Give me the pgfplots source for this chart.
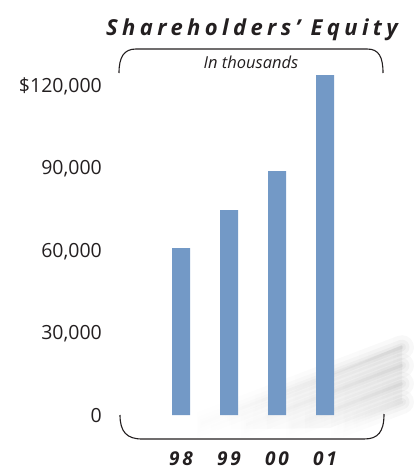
\documentclass[border=0pt]{standalone}
\usepackage{fontspec}
\setmainfont{Open Sans}
\usepackage{pgfplots}
\pgfplotsset{compat=1.18}
\usetikzlibrary{fadings}
\definecolor{barblue}{HTML}{7399C6}
\definecolor{ink}{HTML}{231F20}
\newfontfamily\titlefont[LetterSpace=20]{Open Sans}
\newfontfamily\yearfont[LetterSpace=14]{Open Sans}

\tikzfading[name=streakfade, left color=transparent!100, middle color=transparent!0, right color=transparent!20]

\begin{document}
\begin{tikzpicture}
% page frame
\path (0,0) rectangle (402bp,-469bp);

% soft diagonal shadows behind the bars
\fill[gray!70, opacity=0.14, path fading=streakfade]
  (200bp,-430bp) -- (402bp,-345bp) -- (402bp,-400bp) -- (330bp,-428bp) -- cycle;
\foreach \x in {192,240,288,336}{
  \foreach \w/\o in {24/0.035,15/0.04,8/0.045,3/0.05}{
    \draw[black, line width=\w bp, opacity=\o, path fading=streakfade, line cap=round]
      (\x bp,-427bp) -- (402bp,{-427bp+(402-\x)*0.38bp});
  }
}

% title and subtitle
\node[anchor=base, inner sep=0pt, text=ink] at (252bp,-35bp)
  {\titlefont\fontsize{22bp}{26bp}\selectfont\bfseries\itshape Shareholders’ Equity};
\node[anchor=base, inner sep=0pt, text=ink] at (251bp,-68bp)
  {\fontsize{16.5bp}{20bp}\selectfont\itshape In thousands};

% brackets
\draw[ink, line width=1.1bp]
  (119bp,-73bp) .. controls (119bp,-57bp) and (124bp,-49bp) .. (136bp,-49bp)
  -- (367bp,-49bp) .. controls (379bp,-49bp) and (383bp,-57bp) .. (383bp,-73bp);
\draw[ink, line width=1.1bp]
  (120bp,-415bp) .. controls (120bp,-432bp) and (127bp,-439bp) .. (142bp,-439bp)
  -- (364bp,-439bp) .. controls (378bp,-439bp) and (384bp,-432bp) .. (384bp,-414bp);

\begin{axis}[
  at={(157bp,-415bp)}, anchor=south west,
  scale only axis,
  width=192bp, height=343.75bp,
  xmin=-0.5, xmax=3.5,
  ymin=0, ymax=125000,
  ybar, bar width=18bp,
  axis line style={draw=none},
  major tick length=0pt,
  scaled y ticks=false,
  xtick={0,1,2,3},
  xticklabels={98,99,00,01},
  ytick={0,30000,60000,90000,120000},
  yticklabels={0,{30,000},{60,000},{90,000},{\$120,000}},
  xticklabel style={font={\yearfont\fontsize{19bp}{22bp}\selectfont\bfseries\itshape},
    text=ink, anchor=base, inner sep=0pt, yshift=-50bp},
  yticklabel style={font={\fontsize{19.5bp}{22bp}\selectfont},
    text=ink, anchor=base east, inner sep=0pt, xshift=-55bp, yshift=-7bp},
  clip=false,
]
\addplot[fill=barblue, draw=none] coordinates {(0,60700)(1,74500)(2,88700)(3,123600)};
\end{axis}
\end{tikzpicture}
\end{document}
